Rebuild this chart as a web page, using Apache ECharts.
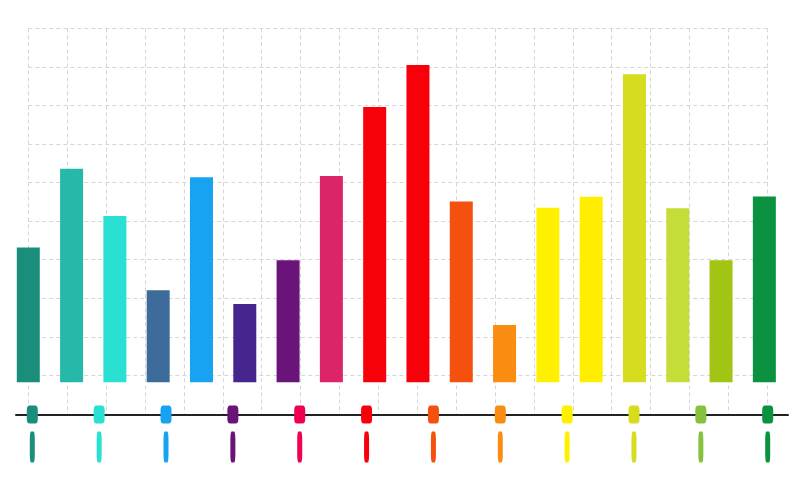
<!DOCTYPE html>
<html>
<head>
<meta charset="utf-8">
<script src="https://cdn.jsdelivr.net/npm/echarts@6/dist/echarts.min.js"></script>
<style>html,body{margin:0;padding:0;background:#fff}#c{width:800px;height:480px}</style>
</head>
<body>
<div id="c"></div>
<script>
// Bar data (18 bars)
var barCategories = ['1','2','3','4','5','6','7','8','9','10','11','12','13','14','15','16','17','18'];
var barValues = [38.1, 60.3, 47.0, 26.0, 57.9, 22.1, 34.5, 58.3, 77.8, 89.6, 51.1, 16.2, 49.3, 52.4, 87.0, 49.2, 34.5, 52.5];
var barColors = ['#1b8e7b','#26b9aa','#2ae0d2','#3e6c9a','#17a2f2','#46258f','#6a1379','#dc2468','#f80009','#f80009','#f4500e','#fa8c12','#fff000','#ffee00','#d6dc1e','#c6dc38','#a2c412','#0a9240'];

// Marker data (12 markers on bottom axis)
var markerCategories = ['a','b','c','d','e','f','g','h','i','j','k','l'];
var markerValues = [0,0,0,0,0,0,0,0,0,0,0,0];
var markerColors = ['#1b8e7b','#2ae0d2','#17a2f2','#6a1379','#f0004e','#f80009','#f4500e','#fa8c12','#fff000','#d6dc1e','#86c23e','#0a9240'];

var chart = echarts.init(document.getElementById('c'), null, {renderer: 'canvas'});

var dashed = {show: true, lineStyle: {color: '#d6d6d6', type: [4, 3], width: 1}};

chart.setOption({
  animation: false,
  backgroundColor: '#ffffff',
  grid: [
    {left: 28.3, right: 32.7, top: 28.3, bottom: 66},
    {left: 6.65, right: 14, top: 28.3, bottom: 97.7},
    {left: 32.3, right: 32.3, top: 380, bottom: 65.5},
    {left: 16, right: 12, top: 380, bottom: 65.5}
  ],
  xAxis: [
    {gridIndex: 0, type: 'value', min: 0, max: 19, interval: 1, axisLine: {show: false}, axisTick: {show: false}, axisLabel: {show: false}, splitLine: dashed},
    {gridIndex: 1, type: 'category', data: barCategories, boundaryGap: true, axisLine: {show: false}, axisTick: {show: false}, axisLabel: {show: false}, splitLine: {show: false}},
    {gridIndex: 2, type: 'category', data: markerCategories, boundaryGap: false, axisLine: {show: false}, axisTick: {show: false}, axisLabel: {show: false}, splitLine: {show: false}},
    {gridIndex: 3, type: 'category', data: ['x'], axisLine: {show: true, lineStyle: {color: '#222', width: 2}}, axisTick: {show: false}, axisLabel: {show: false}, splitLine: {show: false}}
  ],
  yAxis: [
    {gridIndex: 0, type: 'value', min: 0, max: 10, interval: 1, axisLine: {show: false}, axisTick: {show: false}, axisLabel: {show: false}, splitLine: dashed},
    {gridIndex: 1, type: 'value', min: 0, max: 100, axisLine: {show: false}, axisTick: {show: false}, axisLabel: {show: false}, splitLine: {show: false}},
    {gridIndex: 2, type: 'value', min: 0, max: 1, axisLine: {show: false}, axisTick: {show: false}, axisLabel: {show: false}, splitLine: {show: false}},
    {gridIndex: 3, type: 'value', min: 0, max: 1, axisLine: {show: false}, axisTick: {show: false}, axisLabel: {show: false}, splitLine: {show: false}}
  ],
  series: [
    {
      type: 'bar', xAxisIndex: 1, yAxisIndex: 1, barWidth: 23,
      data: barValues.map(function (v, i) { return {value: v, itemStyle: {color: barColors[i]}}; })
    },
    {
      type: 'scatter', xAxisIndex: 2, yAxisIndex: 2, z: 5,
      symbol: 'roundRect', symbolSize: [11, 18], clip: false,
      itemStyle: {opacity: 1},
      data: markerValues.map(function (v, i) { return {value: v, itemStyle: {color: markerColors[i], opacity: 1}}; })
    },
    {
      type: 'scatter', xAxisIndex: 2, yAxisIndex: 2, z: 5,
      symbol: 'roundRect', symbolSize: [5, 31], symbolOffset: [0, 32.5], clip: false,
      itemStyle: {opacity: 1},
      data: markerValues.map(function (v, i) { return {value: v, itemStyle: {color: markerColors[i], opacity: 1}}; })
    }
  ]
});
</script>
</body>
</html>
